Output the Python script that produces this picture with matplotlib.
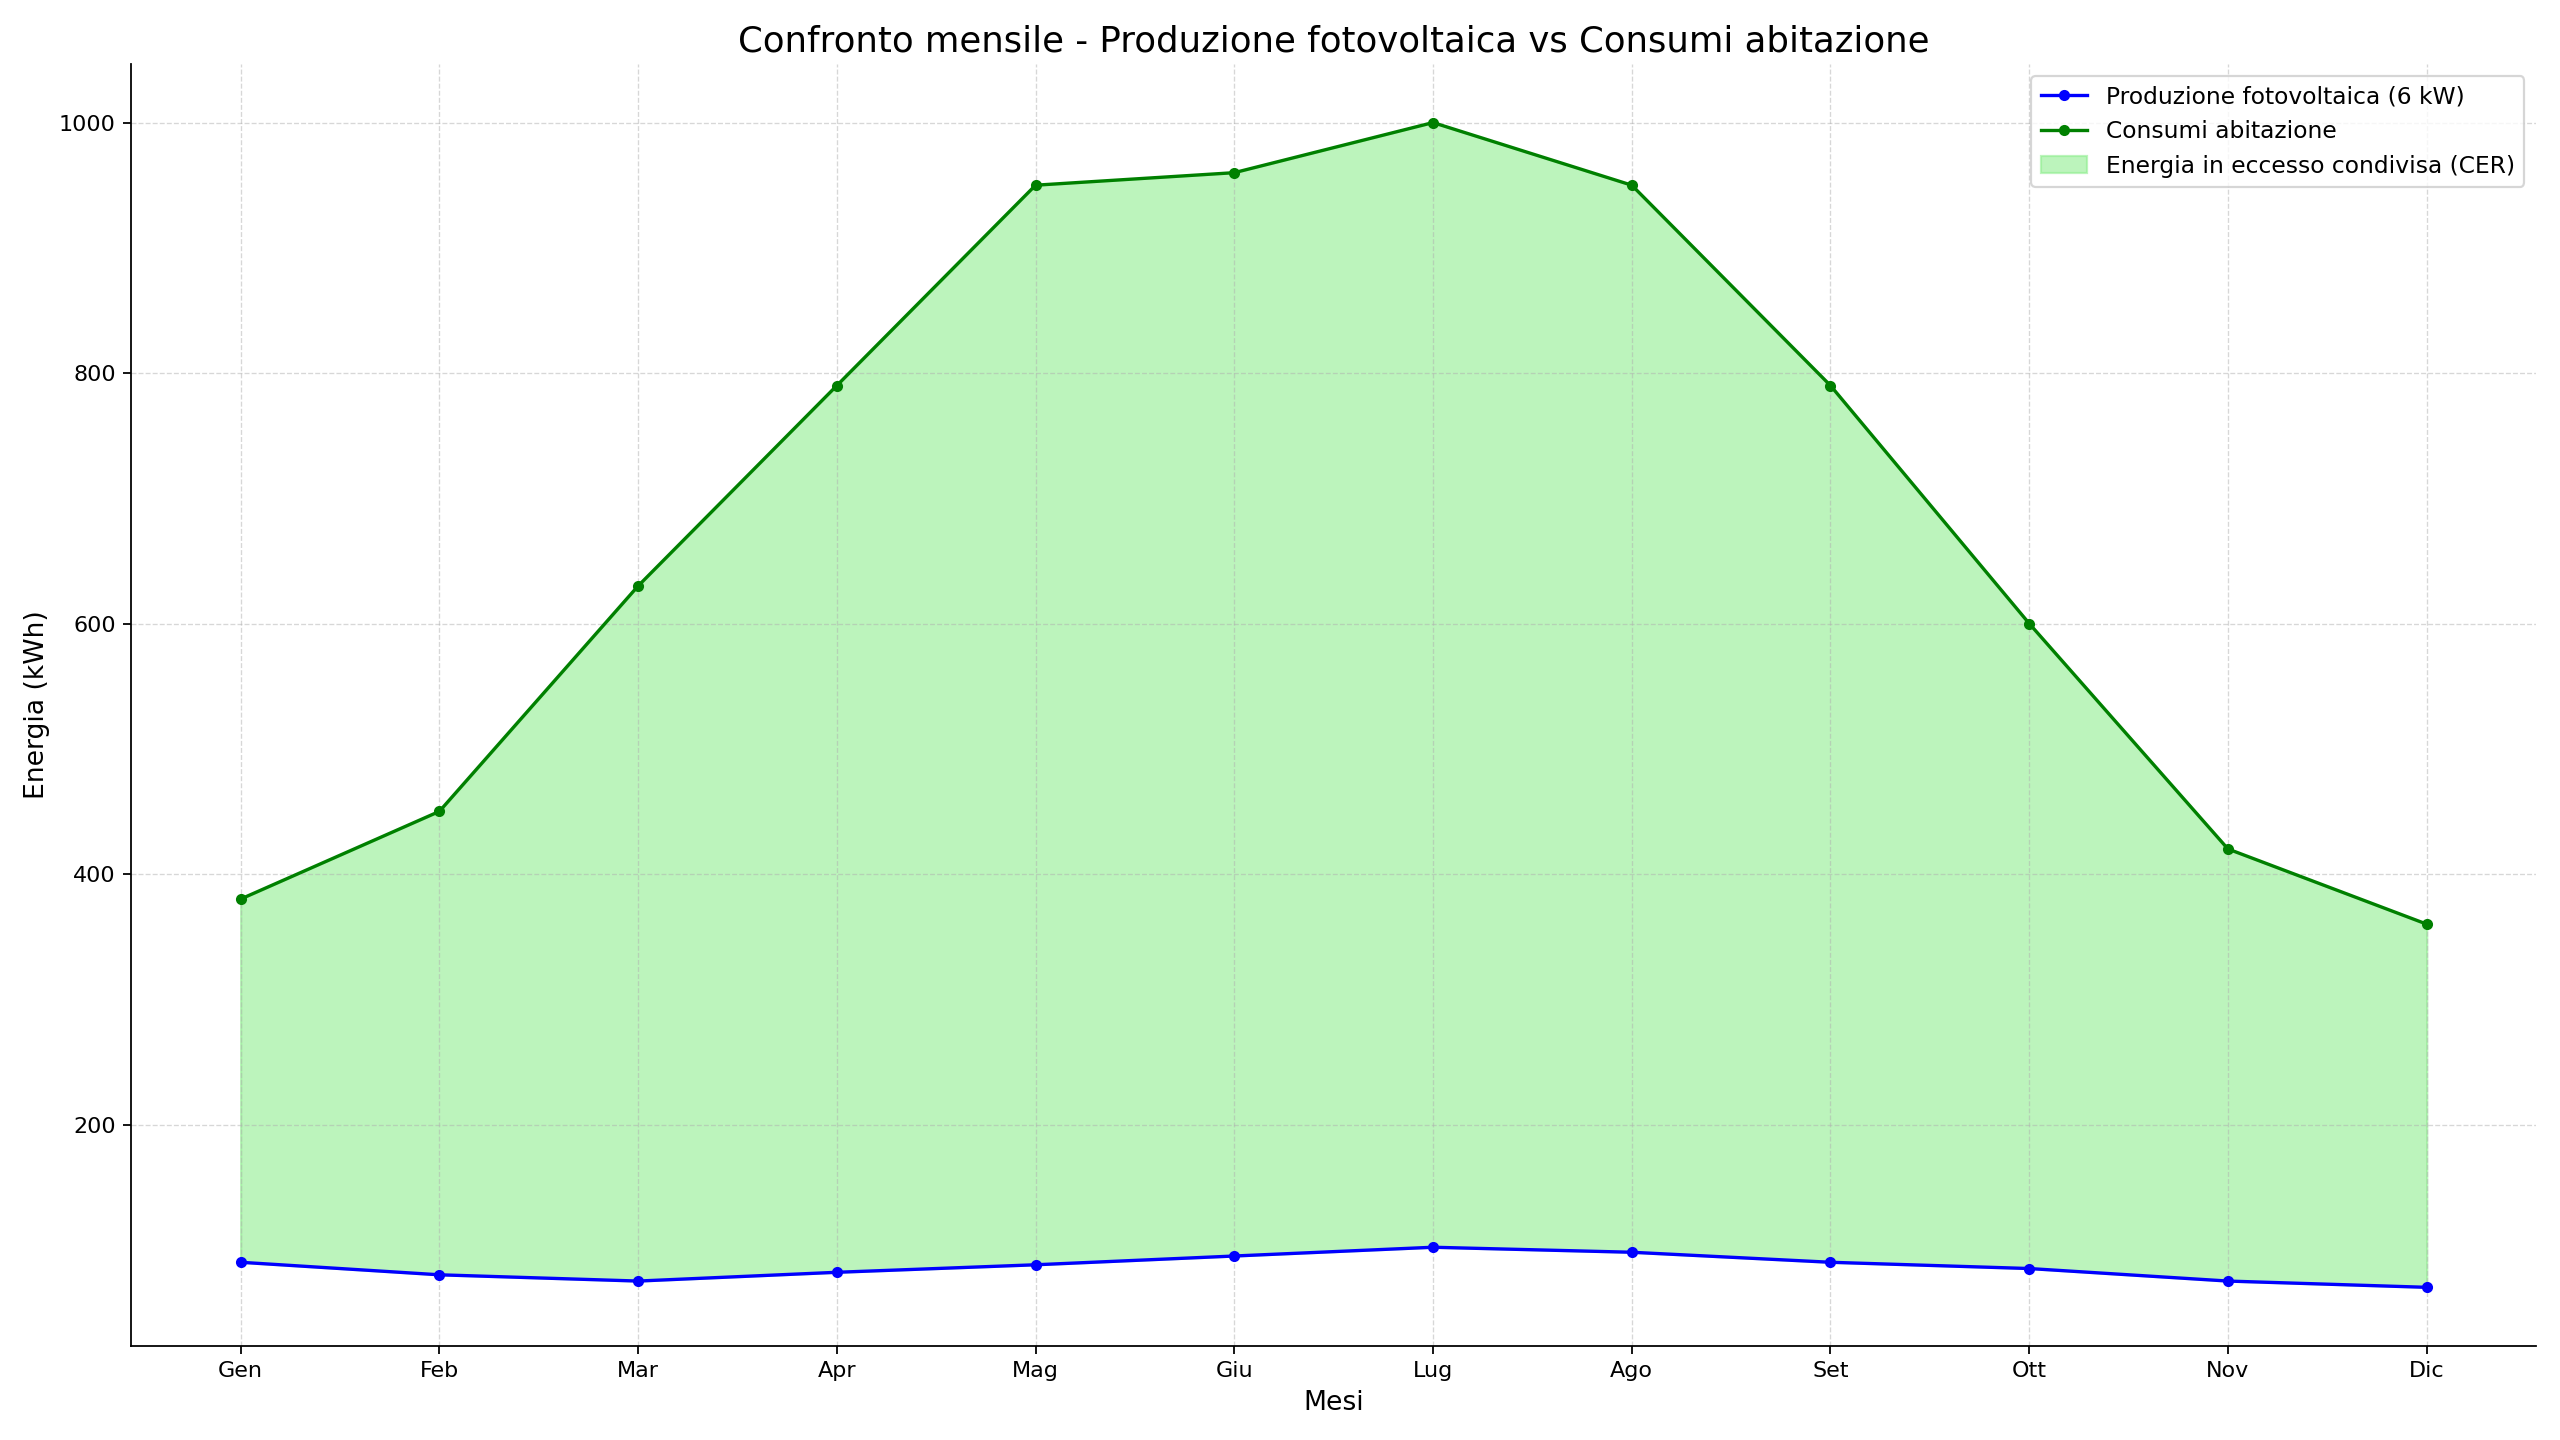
import matplotlib.pyplot as plt

mesi = ["Gen", "Feb", "Mar", "Apr", "Mag", "Giu", "Lug", "Ago", "Set", "Ott", "Nov", "Dic"]
produzione = [90, 80, 75, 82, 88, 95, 102, 98, 90, 85, 75, 70]
consumi = [380, 450, 630, 790, 950, 960, 1000, 950, 790, 600, 420, 360]

fig, ax = plt.subplots(figsize=(16, 9), dpi=160)

ax.plot(mesi, produzione, marker="o", markersize=4, color="blue", label="Produzione fotovoltaica (6 kW)")
ax.plot(mesi, consumi, marker="o", markersize=4, color="green", label="Consumi abitazione")
ax.fill_between(mesi, produzione, consumi, color="lightgreen", alpha=0.6,
                label="Energia in eccesso condivisa (CER)")

ax.set_title("Confronto mensile - Produzione fotovoltaica vs Consumi abitazione", fontsize=16)
ax.set_xlabel("Mesi", fontsize=12)
ax.set_ylabel("Energia (kWh)", fontsize=12)
ax.grid(True, linestyle="--", alpha=0.5, linewidth=0.6)
ax.spines["top"].set_visible(False)
ax.spines["right"].set_visible(False)
ax.legend(loc="upper right", fontsize=10.5)

plt.tight_layout()
plt.savefig("out.png", dpi=160)
